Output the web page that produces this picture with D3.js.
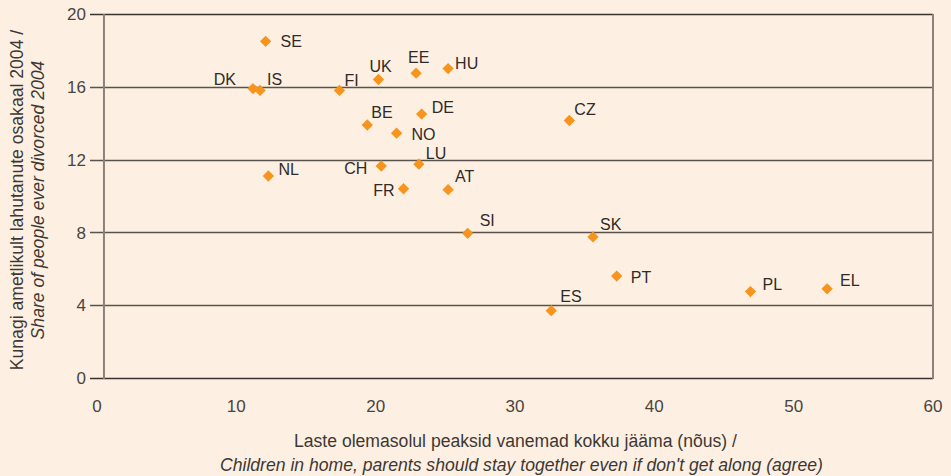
<!DOCTYPE html>
<html>
<head>
<meta charset="utf-8">
<script src="https://cdn.jsdelivr.net/npm/d3@7"></script>
<style>
  html, body { margin: 0; padding: 0; background: #fdf0e2; }
  svg { display: block; font-family: "Liberation Sans", Arial, sans-serif; }
</style>
</head>
<body>
<script>
const countries = ['SE', 'DK', 'IS', 'NL', 'FI', 'UK', 'EE', 'HU', 'BE', 'DE', 'NO', 'CZ',
  'CH', 'LU', 'FR', 'AT', 'SI', 'SK', 'ES', 'PT', 'PL', 'EL']
// Children in home, parents should stay together (agree), %
const agreeValues = [12.1, 11.2, 11.7, 12.3, 17.4, 20.2, 22.9, 25.2, 19.4, 23.3, 21.5, 33.9,
  20.4, 23.1, 22.0, 25.2, 26.6, 35.6, 32.6, 37.3, 46.9, 52.4]
// Share of people ever divorced 2004, %
const divorcedValues = [18.5, 15.9, 15.8, 11.1, 15.8, 16.4, 16.75, 17.0, 13.9, 14.5, 13.45, 14.15,
  11.65, 11.75, 10.4, 10.35, 7.95, 7.75, 3.7, 5.6, 4.75, 4.9]
const xTicks = [0, 10, 20, 30, 40, 50, 60]
const yTicks = [0, 4, 8, 12, 16, 20]

// label placement relative to marker: [dx, dy, anchor]
const labelPlace = {
  SE: [15, 6, 'start'], DK: [-17, -4, 'end'], IS: [7, -5, 'start'], NL: [10, -1, 'start'],
  FI: [5, -4, 'start'], UK: [-9, -8, 'start'], EE: [-8, -10, 'start'], HU: [7, 0, 'start'],
  BE: [4, -7, 'start'], DE: [10, -1, 'start'], NO: [15, 7, 'start'], CZ: [5, -5, 'start'],
  CH: [-14, 8, 'end'], LU: [7, -5, 'start'], FR: [-9, 7, 'end'], AT: [7, -8, 'start'],
  SI: [12, -7, 'start'], SK: [7, -7, 'start'], ES: [9, -9, 'start'], PT: [14, 7, 'start'],
  PL: [12, -2, 'start'], EL: [13, -3, 'start']
}

const data = countries.map((c, i) => ({ name: c, x: agreeValues[i], y: divorcedValues[i] }))

const width = 951
const height = 476
const margin = { left: 97, top: 14, right: 18, bottom: 98 }

const svg = d3.select('body').append('svg')
  .attr('width', width)
  .attr('height', height)

svg.append('rect')
  .attr('width', width)
  .attr('height', height)
  .attr('fill', '#fdf0e2')

const xScale = d3.scaleLinear()
  .domain([0, 60])
  .range([margin.left, width - margin.right])

const yScale = d3.scaleLinear()
  .domain([0, 20])
  .range([height - margin.bottom, margin.top])

// horizontal grid lines, extending left as ticks
const grid = svg.append('g')
grid.selectAll('line')
  .data(yTicks)
  .enter()
  .append('line')
  .attr('x1', margin.left - 7)
  .attr('x2', xScale(60))
  .attr('y1', d => Math.round(yScale(d)) + 0.5)
  .attr('y2', d => Math.round(yScale(d)) + 0.5)
  .attr('stroke', d => (d === 0 || d === 20) ? '#3a3330' : '#5a524d')
  .attr('stroke-width', d => (d === 0 || d === 20) ? 1.3 : 1.5)

// vertical frame lines
svg.append('line')
  .attr('x1', xScale(0.5)).attr('x2', xScale(0.5))
  .attr('y1', yScale(20)).attr('y2', yScale(0) + 1)
  .attr('stroke', '#8c827b')
  .attr('stroke-width', 2)
svg.append('line')
  .attr('x1', xScale(60)).attr('x2', xScale(60))
  .attr('y1', yScale(20)).attr('y2', yScale(0) + 1)
  .attr('stroke', '#8c827b')
  .attr('stroke-width', 2)

// tick labels
svg.append('g').selectAll('text')
  .data(yTicks)
  .enter()
  .append('text')
  .attr('x', margin.left - 11)
  .attr('y', d => yScale(d))
  .attr('dy', '0.36em')
  .attr('text-anchor', 'end')
  .attr('font-size', 17)
  .attr('fill', '#4a4440')
  .text(d => d)

svg.append('g').selectAll('text')
  .data(xTicks)
  .enter()
  .append('text')
  .attr('x', d => xScale(d))
  .attr('y', yScale(0) + 34)
  .attr('text-anchor', 'middle')
  .attr('font-size', 17)
  .attr('fill', '#4a4440')
  .text(d => d)

// axis titles
const xMid = (xScale(0.5) + xScale(60)) / 2
svg.append('text')
  .attr('x', xMid - 3)
  .attr('y', 447)
  .attr('text-anchor', 'middle')
  .attr('font-size', 17.6)
  .attr('fill', '#3d3835')
  .text('Laste olemasolul peaksid vanemad kokku jääma (nõus) /')
svg.append('text')
  .attr('x', xMid + 3)
  .attr('y', 471)
  .attr('text-anchor', 'middle')
  .attr('font-size', 17.6)
  .attr('font-style', 'italic')
  .attr('fill', '#3d3835')
  .text("Children in home, parents should stay together even if don't get along (agree)")

const yMid = (yScale(0) + yScale(20)) / 2 + 4
svg.append('text')
  .attr('transform', `translate(23,${yMid}) rotate(-90)`)
  .attr('text-anchor', 'middle')
  .attr('font-size', 17.6)
  .attr('fill', '#3d3835')
  .text('Kunagi ametlikult lahutanute osakaal 2004 /')
svg.append('text')
  .attr('transform', `translate(44,${yMid}) rotate(-90)`)
  .attr('text-anchor', 'middle')
  .attr('font-size', 17.6)
  .attr('font-style', 'italic')
  .attr('fill', '#3d3835')
  .text('Share of people ever divorced 2004')

// markers
const diamond = d3.symbol().type(d3.symbolSquare).size(64)
svg.append('g').selectAll('path')
  .data(data)
  .enter()
  .append('path')
  .attr('d', diamond)
  .attr('transform', d => `translate(${xScale(d.x)},${yScale(d.y)}) rotate(45)`)
  .attr('fill', '#f7941d')

// point labels
svg.append('g').selectAll('text')
  .data(data)
  .enter()
  .append('text')
  .attr('x', d => xScale(d.x) + labelPlace[d.name][0])
  .attr('y', d => yScale(d.y) + labelPlace[d.name][1])
  .attr('text-anchor', d => labelPlace[d.name][2])
  .attr('font-size', 16)
  .attr('fill', '#2f2a28')
  .text(d => d.name)
</script>
</body>
</html>
